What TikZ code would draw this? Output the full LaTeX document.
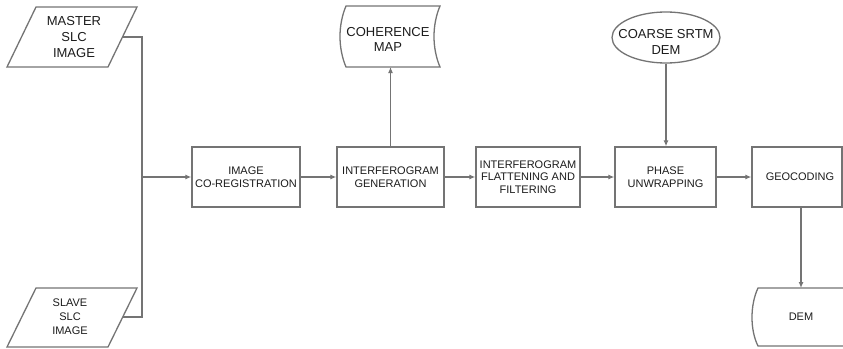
\documentclass[tikz,border=0pt]{standalone}
\usepackage{fontspec}
\setmainfont{Liberation Sans}
\usetikzlibrary{arrows.meta,shapes.geometric}
\definecolor{ln}{HTML}{747474}
\definecolor{tx}{HTML}{1C1C1C}
\begin{document}
\begin{tikzpicture}[x=1pt,y=-1pt]
\tikzset{
  conn/.style={draw=ln, line width=1.3pt},
  arr/.style={conn, -{Latex[length=6pt,width=5pt]}},
  lbl/.style={align=center, text=tx, inner sep=0pt},
  box/.style={conn, rectangle, minimum height=60pt, inner sep=0pt, align=center, text=tx, font=\fontsize{11}{12.7}\selectfont},
  big/.style={font=\fontsize{13}{16}\selectfont},
  mid/.style={font=\fontsize{11}{14}\selectfont},
}
\useasboundingbox[fill=white] (0,0) rectangle (843,348);
% master
\draw[conn] (36,7) -- (137,7) -- (108,67) -- (7,67) -- cycle;
\node[lbl, big] (master) at (74,37) {MASTER\\SLC\\IMAGE};
\coordinate (mout) at (122.5,37);
% slave
\draw[conn] (36,288) -- (137,288) -- (108,347) -- (7,347) -- cycle;
\node[lbl, mid] (slave) at (70,317) {SLAVE\\SLC\\IMAGE};
\coordinate (sout) at (122.7,317);
% boxes
\node[box, minimum width=108pt] (reg) at (246,177) {IMAGE\\CO-REGISTRATION};
\node[box, minimum width=107pt] (gen) at (390.5,177) {INTERFEROGRAM\\GENERATION};
\node[box, minimum width=104pt] (flat) at (528,177) {INTERFEROGRAM\\FLATTENING AND\\FILTERING};
\node[box, minimum width=101pt] (phase) at (665.5,177) {PHASE\\UNWRAPPING};
\node[box, minimum width=90pt] (geo) at (797,177) {\hspace*{6pt}GEOCODING};
% join
\coordinate (join) at (142,177);
\draw[conn] (mout) -- (join |- mout) -- (join);
\draw[conn] (sout) -- (join |- sout) -- (join);
\draw[arr] (join) -- (reg);
\draw[arr] (reg) -- (gen);
\draw[arr] (gen) -- (flat);
\draw[arr] (flat) -- (phase);
\draw[arr] (phase) -- (geo);
% coherence map
\draw[conn] (346,6) -- (440,6) .. controls (432,25) and (432,48) .. (440,67) -- (346,67) .. controls (338,48) and (338,25) .. (346,6) -- cycle;
\node[lbl, font=\fontsize{13}{15}\selectfont] (coh) at (388,39) {COHERENCE\\MAP};
\coordinate (cohb) at (390,67);
\draw[arr] (gen.north) -- (gen.north |- cohb);
% srtm
\node[conn, ellipse, minimum width=108pt, minimum height=51pt, inner sep=0pt] (srtm) at (666,37.5) {};
\node[lbl, big] (srtmt) at (666,42) {COARSE SRTM\\DEM};
\draw[arr] (srtm.south) -- (srtm.south |- phase.north);
% dem
\draw[conn] (843,288) -- (758,288) .. controls (750,305) and (750,330) .. (758,346) -- (843,346);
\node[lbl, mid] (dem) at (801,317) {DEM};
\coordinate (demtop) at (801,288);
\draw[arr] (geo.south -| demtop) -- (demtop);
\end{tikzpicture}
\end{document}
